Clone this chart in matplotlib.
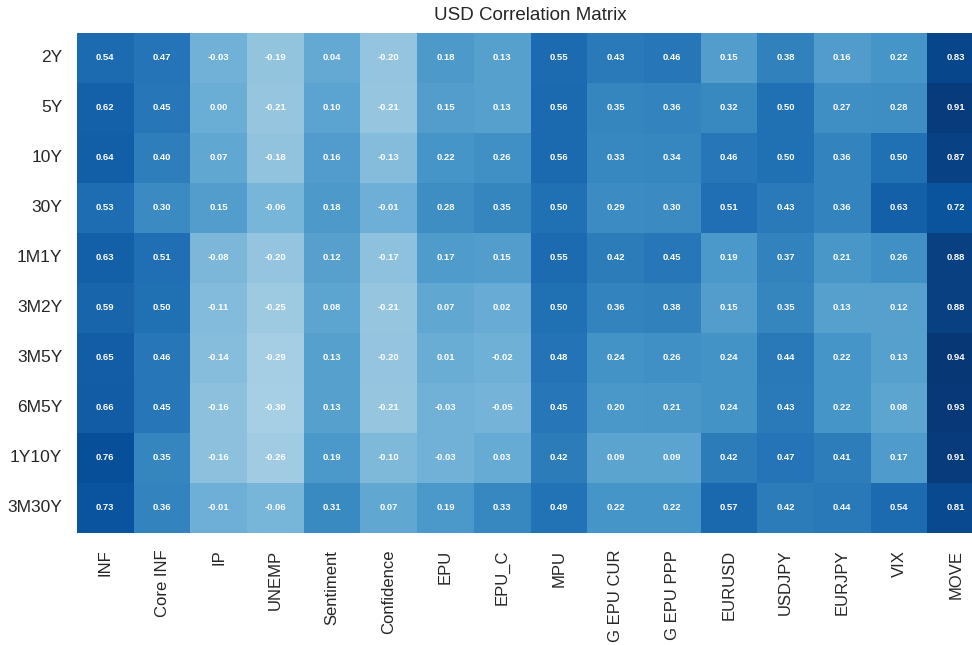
import numpy as np
import pandas as pd
import matplotlib
matplotlib.use("Agg")
import matplotlib.pyplot as plt
import seaborn as sns

tenors = ["2Y", "5Y", "10Y", "30Y", "1M1Y", "3M2Y", "3M5Y", "6M5Y", "1Y10Y", "3M30Y"]
factors = ["INF", "Core INF", "IP", "UNEMP", "Sentiment", "Confidence", "EPU", "EPU_C",
           "MPU", "G EPU CUR", "G EPU PPP", "EURUSD", "USDJPY", "EURJPY", "VIX", "MOVE"]

row_2y    = [0.54, 0.47, -0.03, -0.19, 0.04, -0.20, 0.18, 0.13, 0.55, 0.43, 0.46, 0.15, 0.38, 0.16, 0.22, 0.83]
row_5y    = [0.62, 0.45, 0.00, -0.21, 0.10, -0.21, 0.15, 0.13, 0.56, 0.35, 0.36, 0.32, 0.50, 0.27, 0.28, 0.91]
row_10y   = [0.64, 0.40, 0.07, -0.18, 0.16, -0.13, 0.22, 0.26, 0.56, 0.33, 0.34, 0.46, 0.50, 0.36, 0.50, 0.87]
row_30y   = [0.53, 0.30, 0.15, -0.06, 0.18, -0.01, 0.28, 0.35, 0.50, 0.29, 0.30, 0.51, 0.43, 0.36, 0.63, 0.72]
row_1m1y  = [0.63, 0.51, -0.08, -0.20, 0.12, -0.17, 0.17, 0.15, 0.55, 0.42, 0.45, 0.19, 0.37, 0.21, 0.26, 0.88]
row_3m2y  = [0.59, 0.50, -0.11, -0.25, 0.08, -0.21, 0.07, 0.02, 0.50, 0.36, 0.38, 0.15, 0.35, 0.13, 0.12, 0.88]
row_3m5y  = [0.65, 0.46, -0.14, -0.29, 0.13, -0.20, 0.01, -0.02, 0.48, 0.24, 0.26, 0.24, 0.44, 0.22, 0.13, 0.94]
row_6m5y  = [0.66, 0.45, -0.16, -0.30, 0.13, -0.21, -0.03, -0.05, 0.45, 0.20, 0.21, 0.24, 0.43, 0.22, 0.08, 0.93]
row_1y10y = [0.76, 0.35, -0.16, -0.26, 0.19, -0.10, -0.03, 0.03, 0.42, 0.09, 0.09, 0.42, 0.47, 0.41, 0.17, 0.91]
row_3m30y = [0.73, 0.36, -0.01, -0.06, 0.31, 0.07, 0.19, 0.33, 0.49, 0.22, 0.22, 0.57, 0.42, 0.44, 0.54, 0.81]

corr = pd.DataFrame(
    [row_2y, row_5y, row_10y, row_30y, row_1m1y, row_3m2y, row_3m5y, row_6m5y, row_1y10y, row_3m30y],
    index=tenors, columns=factors,
)

sns.set_style("white")
plt.rcParams["font.family"] = ["Liberation Sans", "DejaVu Sans"]

W, H = 972, 645
fig = plt.figure(figsize=(W / 100, H / 100), dpi=100)
# the matrix runs slightly past the right edge of the canvas
ax = fig.add_axes([77 / W, 1 - 533 / H, 907 / W, 500 / H])

sns.heatmap(
    corr, ax=ax, cmap="Blues", vmin=-1, vmax=1, cbar=False,
    annot=True, fmt=".2f",
    annot_kws={"fontsize": 6.8, "fontweight": "bold", "color": "white"},
)

ax.set_title("USD Correlation Matrix", fontsize=13.5, pad=9)
ax.tick_params(axis="both", length=0)
ax.set_yticklabels(tenors, rotation=0, fontsize=12.5)
ax.set_xticklabels(factors, rotation=90, fontsize=12)
ax.tick_params(axis="x", pad=12)
ax.tick_params(axis="y", pad=10.5)

fig.savefig("out.png", dpi=100)
